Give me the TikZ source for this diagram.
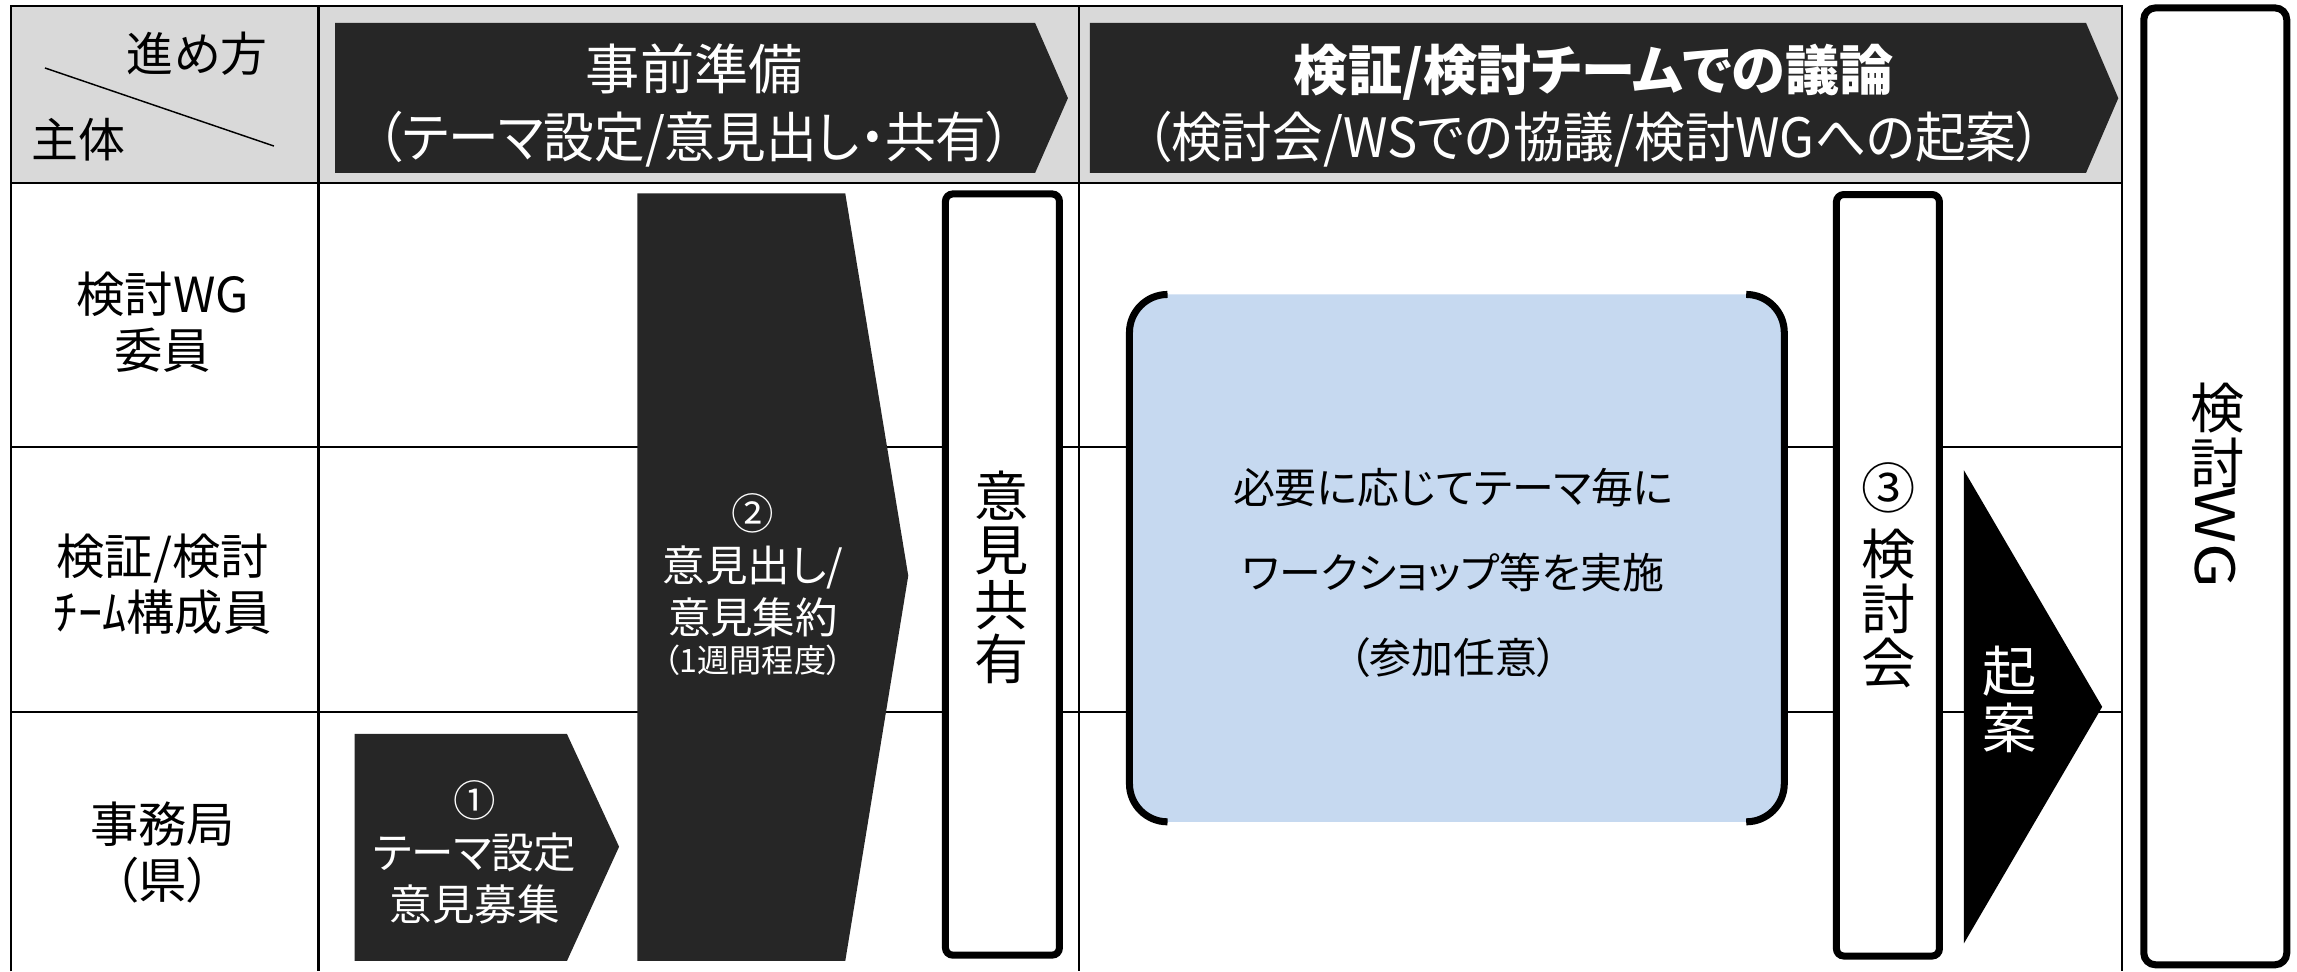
\documentclass[tikz,border=0pt]{standalone}
\usepackage{graphicx}
\usepackage{fontspec}
\setmainfont{Noto Sans CJK JP}[RawFeature=+palt]
\definecolor{hdrgray}{HTML}{D9D9D9}
\definecolor{darkfill}{HTML}{262626}
\definecolor{wsblue}{HTML}{C6D9F0}
\tikzset{
  gridline/.style={draw=black, line width=0.8pt},
  rowline/.style={draw=black, line width=0.6pt},
  darkarrow/.style={fill=darkfill},
  thickbox/.style={draw=black, fill=white, line width=2.4pt, rounded corners=2.5pt},
  bracket/.style={draw=black, line width=2.4pt, rounded corners=13pt},
  lbl/.style={inner sep=0pt, align=center, text=black},
  wlbl/.style={inner sep=0pt, align=center, text=white},
  hfont/.style={font=\fontsize{18.5}{23}\selectfont},
  rfont/.style={font=\fontsize{16.5}{19.3}\selectfont},
  afont/.style={font=\fontsize{14.5}{17.8}\selectfont},
  vfont/.style={font=\fontsize{18.5}{18.6}\selectfont},
  bfont/.style={font=\fontsize{14.3}{29}\selectfont},
}
\begin{document}
\begin{tikzpicture}[x=0.5pt, y=-0.5pt]
\useasboundingbox (0,0) rectangle (1568,663);
% header background
\fill[hdrgray] (7.5,4) rectangle (1448.5,125);
% grid rows
\draw[rowline] (7.5,305) -- (1448.5,305);
\draw[rowline] (7.5,486) -- (1448.5,486);
% grid frame and columns
\draw[gridline] (7.5,663) -- (7.5,4) -- (1448.5,4) -- (1448.5,663);
\draw[gridline] (7.5,125) -- (1448.5,125);
\draw[gridline] (217.5,4) -- (217.5,663);
\draw[gridline] (736.5,4) -- (736.5,663);
% corner cell
\draw[line width=0.5pt] (30.7,46.4) -- (187,99.7);
\node[lbl, font=\fontsize{16}{19}\selectfont] (susumekata) at (134.5,36.5) {進め方};
\node[lbl, font=\fontsize{16}{19}\selectfont] (shutai) at (53.5,95.5) {主体};
% header arrows
\fill[darkarrow] (228.7,15.7) -- (706.6,15.7) -- (729,67) -- (706.6,118) -- (228.7,118) -- cycle;
\fill[darkarrow] (744,15.7) -- (1424,15.7) -- (1446,67) -- (1424,118) -- (744,118) -- cycle;
\node[wlbl, hfont] (h1) at (474,72) {事前準備\\\scalebox{0.935}[1]{（テーマ設定/意見出し・共有）}};
\node[wlbl, hfont] (h2) at (1088,72) {\bfseries 検証/検討チームでの議論\\\scalebox{0.935}[1]{（検討会/WSでの協議/検討WGへの起案）}};
% row labels
\node[lbl, rfont] (r1) at (111,220) {検討WG\\委員};
\node[lbl, rfont] (r2) at (111,399) {検証/検討\\ﾁｰﾑ構成員};
\node[lbl, rfont] (r3) at (111,582) {事務局\\（県）};
% step 1 arrow
\fill[darkarrow] (242,501) -- (387,501) -- (422.6,578) -- (387,656) -- (242,656) -- cycle;
\node[wlbl, afont] (s1) at (324,582) {①\\テーマ設定\\意見募集};
% step 2 arrow
\fill[darkarrow] (435,132) -- (577,132) -- (620,393) -- (577,656) -- (435,656) -- cycle;
\node[wlbl, afont] (s2) at (514,386) {②\\意見出し/\\意見集約};
\node[wlbl, font=\fontsize{11}{13}\selectfont] (s2b) at (514,450.5) {（1週間程度）};
% opinion sharing box
\draw[thickbox] (645.4,132.4) rectangle (723.2,652);
\node[lbl, vfont] (kyoyu) at (684,394) {意\\見\\共\\有};
% workshop box
\fill[wsblue, rounded corners=13pt] (771,201) rectangle (1218,561);
\draw[bracket] (797,201) -- (771,201) -- (771,561) -- (797,561);
\draw[bracket] (1192,201) -- (1218,201) -- (1218,561) -- (1192,561);
\node[lbl, bfont] (ws) at (992,391) {必要に応じてテーマ毎に\\ワークショップ等を実施\\（参加任意）};
% review meeting box
\draw[thickbox] (1253.6,132.8) rectangle (1323.9,652.6);
\node[lbl, vfont] (s3num) at (1289,333) {③};
\node[lbl, vfont] (s3) at (1289,415.5) {検\\討\\会};
% proposal triangle
\fill[black] (1340.6,321) -- (1435,482.5) -- (1340.6,644) -- cycle;
\node[wlbl, font=\fontsize{18.5}{19.5}\selectfont] (kian) at (1372,477.5) {起\\案};
% WG box
\draw[thickbox, rounded corners=4pt] (1463.4,5.4) rectangle (1561,658.6);
\node[lbl, vfont] (wg1) at (1514,297.3) {検\\討};
\node[lbl, font=\fontsize{18.5}{20}\selectfont, rotate=-90] (wg2) at (1512,367) {\scalebox{1.2}[1]{WG}};
\end{tikzpicture}
\end{document}
